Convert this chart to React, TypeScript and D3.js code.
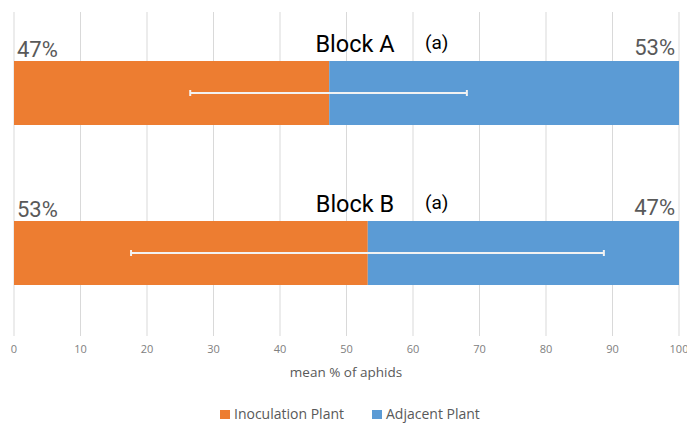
import { useEffect, useRef } from 'react';
import * as d3 from 'd3';

const blocks = ['Block A', 'Block B'];
const inoculation = [47.4, 53.2];
const adjacent = [52.6, 46.8];
const inocLabels = ['47%', '53%'];
const adjLabels = ['53%', '47%'];
const groupLetters = ['(a)', '(a)'];
const errLow = [26.5, 17.6];
const errHigh = [68.1, 88.7];
const xTicks = [0, 10, 20, 30, 40, 50, 60, 70, 80, 90, 100];
const seriesNames = ['Inoculation Plant', 'Adjacent Plant'];
const colors = ['#ED7D31', '#5B9BD5'];

const W = 687;
const H = 423;

export default function App() {
  const svgRef = useRef<SVGSVGElement>(null);

  useEffect(() => {
    if (!svgRef.current) return;
    const svg = d3.select(svgRef.current);
    svg.selectAll('*').remove();

    const x = d3.scaleLinear().domain([0, 100]).range([14, 679]);
    const y = d3.scaleBand().domain(blocks).range([13, 333]).paddingInner(0.6).paddingOuter(0.3);

    // gridlines
    svg.append('g').selectAll('line').data(xTicks).join('line')
      .attr('x1', d => x(d)).attr('x2', d => x(d))
      .attr('y1', 12).attr('y2', 336)
      .attr('stroke', '#D9D9D9').attr('stroke-width', 1);

    // tick labels
    svg.append('g').selectAll('text').data(xTicks).join('text')
      .attr('x', d => x(d)).attr('y', 353)
      .attr('text-anchor', 'middle')
      .attr('font-family', 'Open Sans, sans-serif').attr('font-size', '11px')
      .attr('fill', '#808080')
      .text(d => d);

    svg.append('text')
      .attr('x', 346).attr('y', 377)
      .attr('text-anchor', 'middle')
      .attr('font-family', 'Open Sans, sans-serif').attr('font-size', '13.5px')
      .attr('fill', '#595959')
      .text('mean % of aphids');

    blocks.forEach((b, i) => {
      const y0 = y(b)!;
      const bh = y.bandwidth();
      const cy = y0 + bh / 2;

      svg.append('rect')
        .attr('x', x(0)).attr('y', y0)
        .attr('width', x(inoculation[i]) - x(0)).attr('height', bh)
        .attr('fill', colors[0]);
      svg.append('rect')
        .attr('x', x(inoculation[i])).attr('y', y0)
        .attr('width', x(inoculation[i] + adjacent[i]) - x(inoculation[i])).attr('height', bh)
        .attr('fill', colors[1]);

      // error bar
      const eb = svg.append('g').attr('stroke', '#F2F2F2').attr('stroke-width', 2);
      eb.append('line').attr('x1', x(errLow[i])).attr('x2', x(errHigh[i])).attr('y1', cy).attr('y2', cy);
      eb.append('line').attr('x1', x(errLow[i])).attr('x2', x(errLow[i])).attr('y1', cy - 3).attr('y2', cy + 3);
      eb.append('line').attr('x1', x(errHigh[i])).attr('x2', x(errHigh[i])).attr('y1', cy - 3).attr('y2', cy + 3);

      // labels
      svg.append('text')
        .attr('x', 17).attr('y', y0 - 4)
        .attr('font-family', 'Roboto, sans-serif').attr('font-size', '22px')
        .attr('fill', '#595959')
        .text(inocLabels[i]);
      svg.append('text')
        .attr('x', 675).attr('y', y0 - 6)
        .attr('text-anchor', 'end')
        .attr('font-family', 'Roboto, sans-serif').attr('font-size', '22px')
        .attr('fill', '#595959')
        .text(adjLabels[i]);
      svg.append('text')
        .attr('x', 355).attr('y', y0 - 9)
        .attr('text-anchor', 'middle')
        .attr('font-family', 'Roboto, sans-serif').attr('font-size', '23.5px')
        .attr('fill', '#000')
        .text(b);
      svg.append('text')
        .attr('x', 425).attr('y', y0 - 12)
        .attr('font-family', 'Roboto, sans-serif').attr('font-size', '19px')
        .attr('fill', '#000')
        .text(groupLetters[i]);
    });

    // legend
    const legendX = [220, 372];
    seriesNames.forEach((s, i) => {
      svg.append('rect')
        .attr('x', legendX[i]).attr('y', 410)
        .attr('width', 10).attr('height', 9)
        .attr('fill', colors[i]);
      svg.append('text')
        .attr('x', legendX[i] + 14).attr('y', 419)
        .attr('font-family', 'Open Sans, sans-serif').attr('font-size', '14px')
        .attr('fill', '#595959')
        .text(s);
    });
  }, []);

  return (
    <div style={{ position: 'fixed', left: 0, top: 0 }}>
      <svg ref={svgRef} width={W} height={H} style={{ display: 'block', background: '#fff' }} />
    </div>
  );
}
